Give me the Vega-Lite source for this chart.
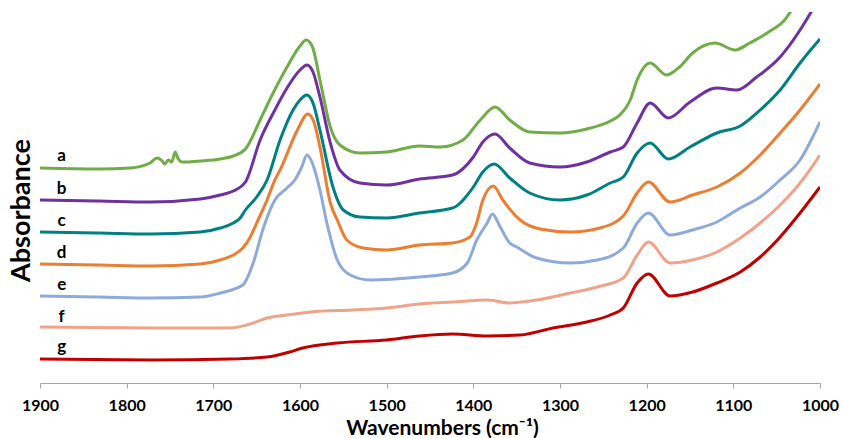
{
  "$schema": "https://vega.github.io/schema/vega-lite/v6.json",
  "width": 780,
  "height": 371,
  "autosize": {"type": "none"},
  "padding": {"left": 40, "top": 12, "right": 21, "bottom": 55},
  "background": "white",
  "config": {"view": {"stroke": null}, "font": "Lato"},
  "datasets": {
    "spectra": [
      {"s":"a","wn":1900,"A":2.15},{"s":"a","wn":1831,"A":2.14},{"s":"a","wn":1796,"A":2.15},{"s":"a","wn":1773,"A":2.20},{"s":"a","wn":1765,"A":2.25},{"s":"a","wn":1759,"A":2.22},{"s":"a","wn":1756,"A":2.19},{"s":"a","wn":1752,"A":2.23},{"s":"a","wn":1748,"A":2.21},{"s":"a","wn":1744,"A":2.31},{"s":"a","wn":1741,"A":2.25},{"s":"a","wn":1736,"A":2.21},{"s":"a","wn":1715,"A":2.22},{"s":"a","wn":1692,"A":2.24},{"s":"a","wn":1677,"A":2.27},{"s":"a","wn":1663,"A":2.34},{"s":"a","wn":1646,"A":2.63},{"s":"a","wn":1635,"A":2.83},{"s":"a","wn":1615,"A":3.16},{"s":"a","wn":1600,"A":3.37},{"s":"a","wn":1593,"A":3.43},{"s":"a","wn":1586,"A":3.37},{"s":"a","wn":1577,"A":3.03},{"s":"a","wn":1565,"A":2.56},{"s":"a","wn":1554,"A":2.38},{"s":"a","wn":1531,"A":2.30},{"s":"a","wn":1500,"A":2.31},{"s":"a","wn":1462,"A":2.37},{"s":"a","wn":1438,"A":2.36},{"s":"a","wn":1412,"A":2.43},{"s":"a","wn":1392,"A":2.63},{"s":"a","wn":1375,"A":2.76},{"s":"a","wn":1358,"A":2.63},{"s":"a","wn":1335,"A":2.51},{"s":"a","wn":1300,"A":2.50},{"s":"a","wn":1269,"A":2.54},{"s":"a","wn":1242,"A":2.62},{"s":"a","wn":1231,"A":2.68},{"s":"a","wn":1219,"A":2.83},{"s":"a","wn":1211,"A":3.03},{"s":"a","wn":1196,"A":3.20},{"s":"a","wn":1177,"A":3.08},{"s":"a","wn":1162,"A":3.16},{"s":"a","wn":1147,"A":3.30},{"s":"a","wn":1121,"A":3.40},{"s":"a","wn":1098,"A":3.33},{"s":"a","wn":1081,"A":3.40},{"s":"a","wn":1061,"A":3.50},{"s":"a","wn":1035,"A":3.70},{"s":"a","wn":1023,"A":3.91},
      {"s":"b","wn":1900,"A":1.83},{"s":"b","wn":1831,"A":1.82},{"s":"b","wn":1773,"A":1.81},{"s":"b","wn":1715,"A":1.84},{"s":"b","wn":1692,"A":1.88},{"s":"b","wn":1677,"A":1.92},{"s":"b","wn":1663,"A":2.01},{"s":"b","wn":1646,"A":2.43},{"s":"b","wn":1629,"A":2.73},{"s":"b","wn":1615,"A":2.95},{"s":"b","wn":1600,"A":3.13},{"s":"b","wn":1592,"A":3.18},{"s":"b","wn":1585,"A":3.11},{"s":"b","wn":1577,"A":2.86},{"s":"b","wn":1565,"A":2.40},{"s":"b","wn":1554,"A":2.13},{"s":"b","wn":1531,"A":2.00},{"s":"b","wn":1500,"A":1.98},{"s":"b","wn":1462,"A":2.04},{"s":"b","wn":1424,"A":2.08},{"s":"b","wn":1400,"A":2.26},{"s":"b","wn":1389,"A":2.41},{"s":"b","wn":1375,"A":2.49},{"s":"b","wn":1358,"A":2.35},{"s":"b","wn":1335,"A":2.20},{"s":"b","wn":1300,"A":2.16},{"s":"b","wn":1269,"A":2.21},{"s":"b","wn":1242,"A":2.31},{"s":"b","wn":1227,"A":2.36},{"s":"b","wn":1211,"A":2.60},{"s":"b","wn":1196,"A":2.80},{"s":"b","wn":1175,"A":2.65},{"s":"b","wn":1150,"A":2.81},{"s":"b","wn":1119,"A":2.95},{"s":"b","wn":1096,"A":2.93},{"s":"b","wn":1073,"A":3.06},{"s":"b","wn":1046,"A":3.26},{"s":"b","wn":1023,"A":3.53},{"s":"b","wn":1009,"A":3.73},{"s":"b","wn":1000,"A":3.88},
      {"s":"c","wn":1900,"A":1.51},{"s":"c","wn":1831,"A":1.50},{"s":"c","wn":1773,"A":1.49},{"s":"c","wn":1715,"A":1.51},{"s":"c","wn":1692,"A":1.55},{"s":"c","wn":1677,"A":1.60},{"s":"c","wn":1669,"A":1.65},{"s":"c","wn":1663,"A":1.73},{"s":"c","wn":1650,"A":1.86},{"s":"c","wn":1638,"A":2.03},{"s":"c","wn":1623,"A":2.43},{"s":"c","wn":1608,"A":2.73},{"s":"c","wn":1600,"A":2.83},{"s":"c","wn":1592,"A":2.88},{"s":"c","wn":1585,"A":2.80},{"s":"c","wn":1577,"A":2.53},{"s":"c","wn":1562,"A":1.96},{"s":"c","wn":1550,"A":1.73},{"s":"c","wn":1531,"A":1.66},{"s":"c","wn":1500,"A":1.65},{"s":"c","wn":1462,"A":1.70},{"s":"c","wn":1424,"A":1.75},{"s":"c","wn":1400,"A":1.96},{"s":"c","wn":1389,"A":2.11},{"s":"c","wn":1376,"A":2.19},{"s":"c","wn":1358,"A":2.05},{"s":"c","wn":1335,"A":1.90},{"s":"c","wn":1300,"A":1.83},{"s":"c","wn":1269,"A":1.88},{"s":"c","wn":1242,"A":2.00},{"s":"c","wn":1227,"A":2.06},{"s":"c","wn":1211,"A":2.30},{"s":"c","wn":1196,"A":2.40},{"s":"c","wn":1175,"A":2.24},{"s":"c","wn":1150,"A":2.36},{"s":"c","wn":1119,"A":2.50},{"s":"c","wn":1092,"A":2.57},{"s":"c","wn":1069,"A":2.73},{"s":"c","wn":1046,"A":2.93},{"s":"c","wn":1023,"A":3.20},{"s":"c","wn":1000,"A":3.44},
      {"s":"d","wn":1900,"A":1.19},{"s":"d","wn":1831,"A":1.18},{"s":"d","wn":1773,"A":1.17},{"s":"d","wn":1715,"A":1.19},{"s":"d","wn":1692,"A":1.23},{"s":"d","wn":1677,"A":1.28},{"s":"d","wn":1666,"A":1.35},{"s":"d","wn":1658,"A":1.45},{"s":"d","wn":1650,"A":1.60},{"s":"d","wn":1638,"A":1.83},{"s":"d","wn":1629,"A":2.03},{"s":"d","wn":1623,"A":2.13},{"s":"d","wn":1603,"A":2.53},{"s":"d","wn":1591,"A":2.69},{"s":"d","wn":1584,"A":2.61},{"s":"d","wn":1577,"A":2.36},{"s":"d","wn":1565,"A":1.80},{"s":"d","wn":1557,"A":1.63},{"s":"d","wn":1546,"A":1.43},{"s":"d","wn":1527,"A":1.35},{"s":"d","wn":1500,"A":1.33},{"s":"d","wn":1462,"A":1.38},{"s":"d","wn":1424,"A":1.40},{"s":"d","wn":1404,"A":1.46},{"s":"d","wn":1397,"A":1.58},{"s":"d","wn":1389,"A":1.83},{"s":"d","wn":1377,"A":1.97},{"s":"d","wn":1366,"A":1.83},{"s":"d","wn":1346,"A":1.63},{"s":"d","wn":1323,"A":1.54},{"s":"d","wn":1288,"A":1.51},{"s":"d","wn":1254,"A":1.55},{"s":"d","wn":1227,"A":1.67},{"s":"d","wn":1211,"A":1.90},{"s":"d","wn":1198,"A":2.01},{"s":"d","wn":1173,"A":1.81},{"s":"d","wn":1147,"A":1.88},{"s":"d","wn":1119,"A":1.96},{"s":"d","wn":1092,"A":2.10},{"s":"d","wn":1069,"A":2.28},{"s":"d","wn":1046,"A":2.50},{"s":"d","wn":1023,"A":2.73},{"s":"d","wn":1000,"A":2.99},
      {"s":"e","wn":1900,"A":0.87},{"s":"e","wn":1831,"A":0.86},{"s":"e","wn":1773,"A":0.85},{"s":"e","wn":1715,"A":0.86},{"s":"e","wn":1692,"A":0.90},{"s":"e","wn":1666,"A":0.98},{"s":"e","wn":1654,"A":1.20},{"s":"e","wn":1643,"A":1.53},{"s":"e","wn":1629,"A":1.83},{"s":"e","wn":1615,"A":1.95},{"s":"e","wn":1606,"A":2.03},{"s":"e","wn":1598,"A":2.16},{"s":"e","wn":1592,"A":2.28},{"s":"e","wn":1583,"A":2.13},{"s":"e","wn":1577,"A":1.93},{"s":"e","wn":1569,"A":1.60},{"s":"e","wn":1557,"A":1.23},{"s":"e","wn":1542,"A":1.08},{"s":"e","wn":1519,"A":1.03},{"s":"e","wn":1462,"A":1.06},{"s":"e","wn":1424,"A":1.10},{"s":"e","wn":1407,"A":1.20},{"s":"e","wn":1396,"A":1.43},{"s":"e","wn":1390,"A":1.52},{"s":"e","wn":1384,"A":1.60},{"s":"e","wn":1378,"A":1.69},{"s":"e","wn":1369,"A":1.56},{"s":"e","wn":1358,"A":1.40},{"s":"e","wn":1350,"A":1.36},{"s":"e","wn":1327,"A":1.25},{"s":"e","wn":1288,"A":1.20},{"s":"e","wn":1257,"A":1.23},{"s":"e","wn":1227,"A":1.35},{"s":"e","wn":1211,"A":1.60},{"s":"e","wn":1198,"A":1.70},{"s":"e","wn":1173,"A":1.48},{"s":"e","wn":1147,"A":1.53},{"s":"e","wn":1119,"A":1.61},{"s":"e","wn":1092,"A":1.75},{"s":"e","wn":1069,"A":1.86},{"s":"e","wn":1046,"A":2.03},{"s":"e","wn":1023,"A":2.23},{"s":"e","wn":1000,"A":2.61},
      {"s":"f","wn":1900,"A":0.56},{"s":"f","wn":1773,"A":0.55},{"s":"f","wn":1681,"A":0.55},{"s":"f","wn":1654,"A":0.60},{"s":"f","wn":1638,"A":0.65},{"s":"f","wn":1615,"A":0.68},{"s":"f","wn":1588,"A":0.71},{"s":"f","wn":1539,"A":0.73},{"s":"f","wn":1500,"A":0.75},{"s":"f","wn":1462,"A":0.79},{"s":"f","wn":1424,"A":0.81},{"s":"f","wn":1384,"A":0.83},{"s":"f","wn":1358,"A":0.80},{"s":"f","wn":1327,"A":0.83},{"s":"f","wn":1288,"A":0.90},{"s":"f","wn":1257,"A":0.96},{"s":"f","wn":1227,"A":1.05},{"s":"f","wn":1211,"A":1.28},{"s":"f","wn":1198,"A":1.41},{"s":"f","wn":1173,"A":1.20},{"s":"f","wn":1147,"A":1.23},{"s":"f","wn":1119,"A":1.31},{"s":"f","wn":1092,"A":1.45},{"s":"f","wn":1069,"A":1.60},{"s":"f","wn":1046,"A":1.78},{"s":"f","wn":1023,"A":2.00},{"s":"f","wn":1000,"A":2.28},
      {"s":"g","wn":1900,"A":0.24},{"s":"g","wn":1773,"A":0.23},{"s":"g","wn":1681,"A":0.24},{"s":"g","wn":1638,"A":0.26},{"s":"g","wn":1612,"A":0.31},{"s":"g","wn":1597,"A":0.35},{"s":"g","wn":1557,"A":0.40},{"s":"g","wn":1500,"A":0.43},{"s":"g","wn":1462,"A":0.47},{"s":"g","wn":1424,"A":0.49},{"s":"g","wn":1384,"A":0.47},{"s":"g","wn":1346,"A":0.48},{"s":"g","wn":1308,"A":0.55},{"s":"g","wn":1269,"A":0.61},{"s":"g","wn":1242,"A":0.68},{"s":"g","wn":1227,"A":0.75},{"s":"g","wn":1211,"A":1.00},{"s":"g","wn":1198,"A":1.09},{"s":"g","wn":1173,"A":0.87},{"s":"g","wn":1147,"A":0.91},{"s":"g","wn":1119,"A":1.00},{"s":"g","wn":1092,"A":1.11},{"s":"g","wn":1069,"A":1.26},{"s":"g","wn":1046,"A":1.46},{"s":"g","wn":1023,"A":1.70},{"s":"g","wn":1000,"A":1.96}
    ],
    "labels": [
      {"s":"a","wn":1875,"A":2.27},
      {"s":"b","wn":1875,"A":1.94},
      {"s":"c","wn":1875,"A":1.62},
      {"s":"d","wn":1875,"A":1.30},
      {"s":"e","wn":1875,"A":0.98},
      {"s":"f","wn":1875,"A":0.66},
      {"s":"g","wn":1875,"A":0.36}
    ]
  },
  "layer": [
    {
      "data": {"name": "spectra"},
      "mark": {"type": "line", "interpolate": "monotone", "strokeWidth": 3, "clip": true},
      "encoding": {
        "x": {
          "field": "wn", "type": "quantitative",
          "scale": {"domain": [1000, 1900], "reverse": true, "nice": false, "zero": false},
          "axis": {
            "values": [1000, 1100, 1200, 1300, 1400, 1500, 1600, 1700, 1800, 1900],
            "format": "d",
            "title": "Wavenumbers (cm⁻¹)",
            "grid": false,
            "domainColor": "#A6A6A6", "domainWidth": 1,
            "tickColor": "#A6A6A6", "tickSize": 5, "tickWidth": 1,
            "labelFont": "Lato", "labelFontWeight": "bold", "labelFontSize": 16, "labelColor": "#000000",
            "labelPadding": 9, "labelFlush": false, "labelOverlap": false,
            "titleFont": "Lato", "titleFontWeight": "bold", "titleFontSize": 21, "titleColor": "#000000",
            "titleX": 402, "titleY": 51, "titleBaseline": "alphabetic", "titleAlign": "center"
          }
        },
        "y": {
          "field": "A", "type": "quantitative",
          "scale": {"domain": [0, 3.71], "nice": false, "zero": false},
          "axis": {
            "title": "Absorbance",
            "grid": false, "domain": false, "ticks": false, "labels": false,
            "titleFont": "Lato", "titleFontWeight": "bold", "titleFontSize": 27, "titleColor": "#000000",
            "titleAngle": -90, "titleX": -19, "titleY": 198, "titleBaseline": "middle", "titleAlign": "center"
          }
        },
        "color": {
          "field": "s", "type": "nominal",
          "scale": {"domain": ["a","b","c","d","e","f","g"], "range": ["#70AD47","#7030A0","#008080","#ED7D31","#8EAADB","#F0A38A","#C00000"]},
          "legend": null
        }
      }
    },
    {
      "data": {"name": "labels"},
      "mark": {"type": "text", "font": "Lato", "fontWeight": "bold", "fontSize": 17, "color": "#000000", "baseline": "middle", "align": "center"},
      "encoding": {
        "x": {"field": "wn", "type": "quantitative"},
        "y": {"field": "A", "type": "quantitative"},
        "text": {"field": "s", "type": "nominal"}
      }
    }
  ]
}
